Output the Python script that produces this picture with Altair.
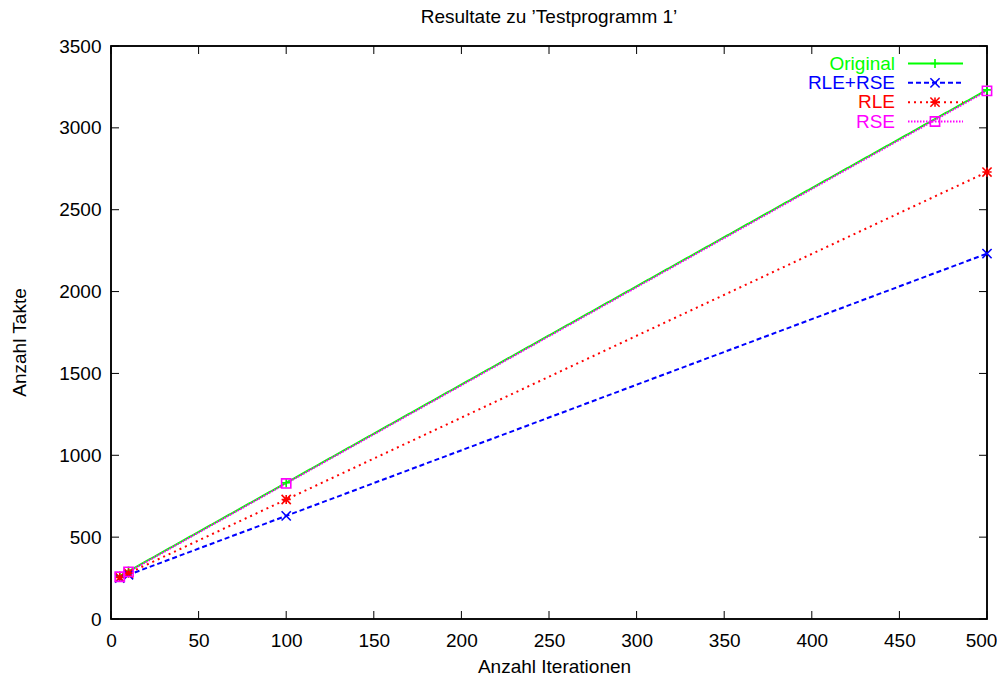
import altair as alt
import pandas as pd

# ---- data ----
iterations = [5, 10, 100, 500]
series_names = ["Original", "RLE+RSE", "RLE", "RSE"]
original = [262, 292, 832, 3232]
rle_rse = [250, 270, 630, 2232]
rle = [254, 280, 730, 2730]
rse = [258, 288, 828, 3226]
x_ticks = [0, 50, 100, 150, 200, 250, 300, 350, 400, 450, 500]
y_ticks = [0, 500, 1000, 1500, 2000, 2500, 3000, 3500]

title_text = "Resultate zu ’Testprogramm 1’"
x_title = "Anzahl Iterationen"
y_title = "Anzahl Takte"

# ---- styles ----
colors = ["#00ff00", "#0000ff", "#ff0000", "#ff00ff"]
dashes = [[1, 0], [5, 3], [2, 4], [1.5, 1.5]]
shapes = [
    "M-1,0L1,0M0,-1L0,1",
    "M-1,-1L1,1M-1,1L1,-1",
    "M-1,0L1,0M0,-1L0,1M-1,-1L1,1M-1,1L1,-1",
    "square",
]
FONT = "Liberation Sans"
FS = 19
W, H = 876, 573
TICK = 8
MSIZE = 85

values = {"Original": original, "RLE+RSE": rle_rse, "RLE": rle, "RSE": rse}
rows = []
for name in series_names:
    for xv, yv in zip(iterations, values[name]):
        rows.append({"series": name, "x": xv, "y": yv})
df = pd.DataFrame(rows)

xs = alt.Scale(domain=[0, 500], nice=False, zero=False)
ys = alt.Scale(domain=[0, 3500], nice=False, zero=False)
color_scale = alt.Scale(domain=series_names, range=colors)
dash_scale = alt.Scale(domain=series_names, range=dashes)
shape_scale = alt.Scale(domain=series_names, range=shapes)

x_axis = alt.Axis(
    title=x_title, values=x_ticks, format="d", ticks=False, tickSize=0,
    domain=False, grid=False, labelFont=FONT, labelFontSize=FS,
    labelColor="black", labelPadding=12, labelFlush=False,
    labelOffset={"condition": {"test": "datum.value == 500", "value": -6}, "value": 0},
    titleFont=FONT, titleFontSize=FS, titleFontWeight="normal",
    titleColor="black", titleX=443, titleY=53, titleBaseline="alphabetic",
    titleAlign="center",
)
y_axis = alt.Axis(
    title=y_title, values=y_ticks, format="d", ticks=False, tickSize=0,
    domain=False, grid=False, labelFont=FONT, labelFontSize=FS,
    labelColor="black", labelPadding=10, labelFlush=False,
    titleFont=FONT, titleFontSize=FS, titleFontWeight="normal",
    titleColor="black", titleX=-92, titleY=296, titleAngle=270,
    titleBaseline="middle", titleAlign="center",
)

color_enc = alt.Color("series:N", scale=color_scale, legend=None)
dash_enc = alt.StrokeDash("series:N", scale=dash_scale, legend=None)
shape_enc = alt.Shape("series:N", scale=shape_scale, legend=None)

lines = alt.Chart(df).mark_line(strokeWidth=2).encode(
    x=alt.X("x:Q", scale=xs, axis=x_axis),
    y=alt.Y("y:Q", scale=ys, axis=y_axis),
    color=color_enc,
    strokeDash=dash_enc,
)

points = alt.Chart(df).mark_point(filled=False, size=MSIZE, strokeWidth=1.6, opacity=1).encode(
    x=alt.X("x:Q", scale=xs, axis=None),
    y=alt.Y("y:Q", scale=ys, axis=None),
    color=color_enc,
    shape=shape_enc,
)

xt = pd.DataFrame({"v": x_ticks})
yt = pd.DataFrame({"v": y_ticks})
tick_style = dict(color="black", strokeWidth=1)
xb = alt.Chart(xt).mark_rule(**tick_style).encode(
    x=alt.X("v:Q", scale=xs, axis=None), y=alt.value(H), y2=alt.value(H - TICK))
xtop = alt.Chart(xt).mark_rule(**tick_style).encode(
    x=alt.X("v:Q", scale=xs, axis=None), y=alt.value(0), y2=alt.value(TICK))
yl = alt.Chart(yt).mark_rule(**tick_style).encode(
    y=alt.Y("v:Q", scale=ys, axis=None), x=alt.value(0), x2=alt.value(TICK))
yr = alt.Chart(yt).mark_rule(**tick_style).encode(
    y=alt.Y("v:Q", scale=ys, axis=None), x=alt.value(W), x2=alt.value(W - TICK))

# ---- plot border (gnuplot box) ----
frame = alt.Chart(pd.DataFrame({"f": [0]})).mark_rect(
    filled=False, stroke="black", strokeWidth=1.5, fill="transparent"
).encode(x=alt.value(0), x2=alt.value(W), y=alt.value(0), y2=alt.value(H))

# ---- title as a text mark above the frame ----
title_df = pd.DataFrame({"t": [title_text]})
title = alt.Chart(title_df).mark_text(
    align="center", baseline="alphabetic", font=FONT, fontSize=FS, color="black"
).encode(x=alt.value(W / 2), y=alt.value(-23), text="t:N")

# ---- legend (gnuplot style, inside top right) ----
leg = pd.DataFrame({"series": series_names})
ly = alt.Y("series:N", axis=None,
           scale=alt.Scale(type="point", domain=series_names, range=[17.5, 75.5], padding=0))
leg_text = alt.Chart(leg).mark_text(align="right", baseline="middle", font=FONT, fontSize=FS).encode(
    x=alt.value(784), y=ly, text="series:N", color=color_enc)
leg_line = alt.Chart(leg).mark_rule(strokeWidth=2).encode(
    x=alt.value(797), x2=alt.value(852), y=ly, color=color_enc, strokeDash=dash_enc)
leg_pt = alt.Chart(leg).mark_point(filled=False, size=MSIZE, strokeWidth=1.6, opacity=1).encode(
    x=alt.value(824), y=ly, color=color_enc, shape=shape_enc)

chart = alt.layer(
    frame, lines, points, xb, xtop, yl, yr, leg_line, leg_pt, leg_text, title
).resolve_scale(
    x="independent", y="independent"
).properties(
    width=W, height=H,
    background="white",
    autosize=alt.AutoSizeParams(type="none"),
    padding={"left": 103, "top": 38, "right": 10, "bottom": 56},
).configure_view(
    stroke="black", strokeWidth=1.5
)

chart.save("out.html", embed_options={"renderer": "svg", "actions": False})
